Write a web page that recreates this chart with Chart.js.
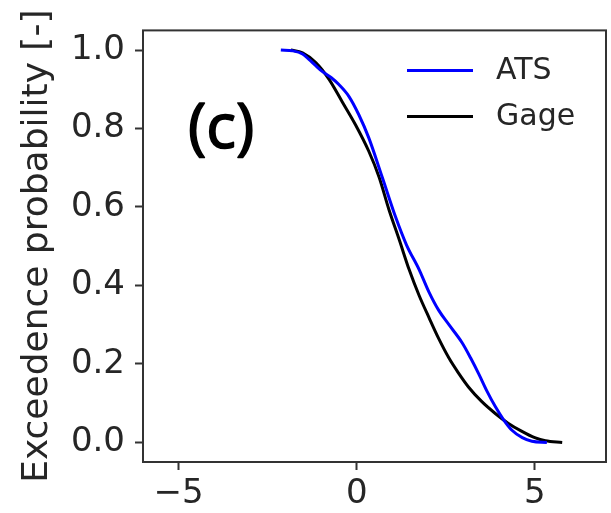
<!DOCTYPE html>
<html>
<head>
<meta charset="utf-8">
<script src="https://cdn.jsdelivr.net/npm/chart.js@4"></script>
<style>
  html, body { margin: 0; padding: 0; background: #fff; }
  .chart-container { width: 611px; height: 513px; }
</style>
</head>
<body>
<div class="chart-container"><canvas id="myChart" width="611" height="513"></canvas></div>
<script>
// values
const atsX = [-2.13, -1.8, -1.52, -1.34, -1.15, -0.96, -0.72, -0.5, -0.22, 0.06, 0.34, 0.72, 1.09, 1.4, 1.75, 2.03, 2.3, 2.59, 2.96, 3.2, 3.43, 3.65, 3.9, 4.13, 4.36, 4.65, 4.92, 5.34];
const atsY = [1.0, 0.998, 0.99, 0.976, 0.96, 0.945, 0.93, 0.912, 0.882, 0.835, 0.776, 0.675, 0.575, 0.503, 0.441, 0.383, 0.337, 0.3, 0.254, 0.215, 0.174, 0.132, 0.09, 0.057, 0.031, 0.012, 0.003, 0.0];
const gageX = [-1.85, -1.52, -1.15, -0.78, -0.4, -0.03, 0.34, 0.63, 0.9, 1.2, 1.47, 1.75, 2.03, 2.3, 2.59, 2.85, 3.15, 3.5, 3.9, 4.25, 4.64, 5.0, 5.3, 5.77];
const gageY = [1.0, 0.993, 0.968, 0.926, 0.867, 0.809, 0.742, 0.676, 0.595, 0.515, 0.441, 0.375, 0.318, 0.265, 0.215, 0.178, 0.14, 0.105, 0.073, 0.049, 0.028, 0.012, 0.004, 0.0];
const xTicks = [-5, 0, 5];
const yTicks = [0.0, 0.2, 0.4, 0.6, 0.8, 1.0];
const seriesNames = ['ATS', 'Gage'];
const panelLabel = '(c)';

const ctx = document.getElementById('myChart').getContext('2d');
const textColor = '#262626';
const font = 'DejaVu Sans';

const toPoints = (xs, ys) => xs.map((x, i) => ({ x: x, y: ys[i] }));

// box around the plot + legend + panel label
const extras = {
    id: 'extras',
    afterDraw(chart) {
        const a = chart.chartArea;
        const c = chart.ctx;
        c.save();
        c.strokeStyle = '#333';
        c.lineWidth = 2;
        c.strokeRect(a.left, a.top, a.right - a.left, a.bottom - a.top);

        // legend
        c.font = '30px "' + font + '"';
        c.textBaseline = 'middle';
        chart.data.datasets.forEach((ds, i) => {
            const y = a.top + 40 + i * 46;
            c.strokeStyle = ds.borderColor;
            c.lineWidth = 3;
            c.beginPath();
            c.moveTo(a.left + 264, y);
            c.lineTo(a.left + 330, y);
            c.stroke();
            c.fillStyle = textColor;
            c.fillText(ds.label, a.left + 353, y + 1);
        });

        // panel label, regular weight thickened a little
        c.font = '62px "Open Sans"';
        c.fillStyle = '#000';
        c.strokeStyle = '#000';
        c.lineWidth = 1.6;
        c.lineJoin = 'round';
        c.textBaseline = 'alphabetic';
        c.fillText(panelLabel, a.left + 45, a.top + 118);
        c.strokeText(panelLabel, a.left + 45, a.top + 118);
        c.restore();
    }
};

const myChart = new Chart(ctx, {
    type: 'line',
    data: {
        datasets: [
            {
                label: seriesNames[0],
                data: toPoints(atsX, atsY),
                borderColor: '#0000ff',
                borderWidth: 3,
                pointRadius: 0,
                cubicInterpolationMode: 'monotone',
                fill: false,
            },
            {
                label: seriesNames[1],
                data: toPoints(gageX, gageY),
                borderColor: '#000000',
                borderWidth: 3,
                pointRadius: 0,
                cubicInterpolationMode: 'monotone',
                fill: false,
            },
        ],
    },
    options: {
        responsive: false,
        animation: false,
        layout: { padding: { top: 25, right: 5, left: 0, bottom: 0 } },
        plugins: { legend: { display: false }, tooltip: { enabled: false } },
        scales: {
            x: {
                type: 'linear',
                min: -6,
                max: 7,
                afterBuildTicks: (s) => { s.ticks = xTicks.map(v => ({ value: v })); },
                afterFit: (s) => { s.height = 51; },
                grid: { drawOnChartArea: false, drawTicks: true, tickLength: 8, tickColor: '#333', tickWidth: 2 },
                border: { display: false },
                ticks: {
                    padding: 4,
                    color: textColor,
                    font: { family: font, size: 34 },
                    callback: (v) => String(v).replace('-', '\u2212'),
                },
            },
            y: {
                min: -0.05,
                max: 1.05,
                afterBuildTicks: (s) => { s.ticks = yTicks.map(v => ({ value: v })); },
                afterFit: (s) => { s.width = 143; },
                grid: { drawOnChartArea: false, drawTicks: true, tickLength: 8, tickColor: '#333', tickWidth: 2 },
                border: { display: false },
                title: {
                    display: true,
                    text: 'Exceedence probability [-]',
                    color: textColor,
                    font: { family: font, size: 36 },
                    padding: { top: 16, bottom: 0 },
                },
                ticks: {
                    padding: 10,
                    color: textColor,
                    font: { family: font, size: 34 },
                    callback: (v) => Number(v).toFixed(1),
                },
            },
        },
    },
    plugins: [extras],
});
</script>
</body>
</html>
